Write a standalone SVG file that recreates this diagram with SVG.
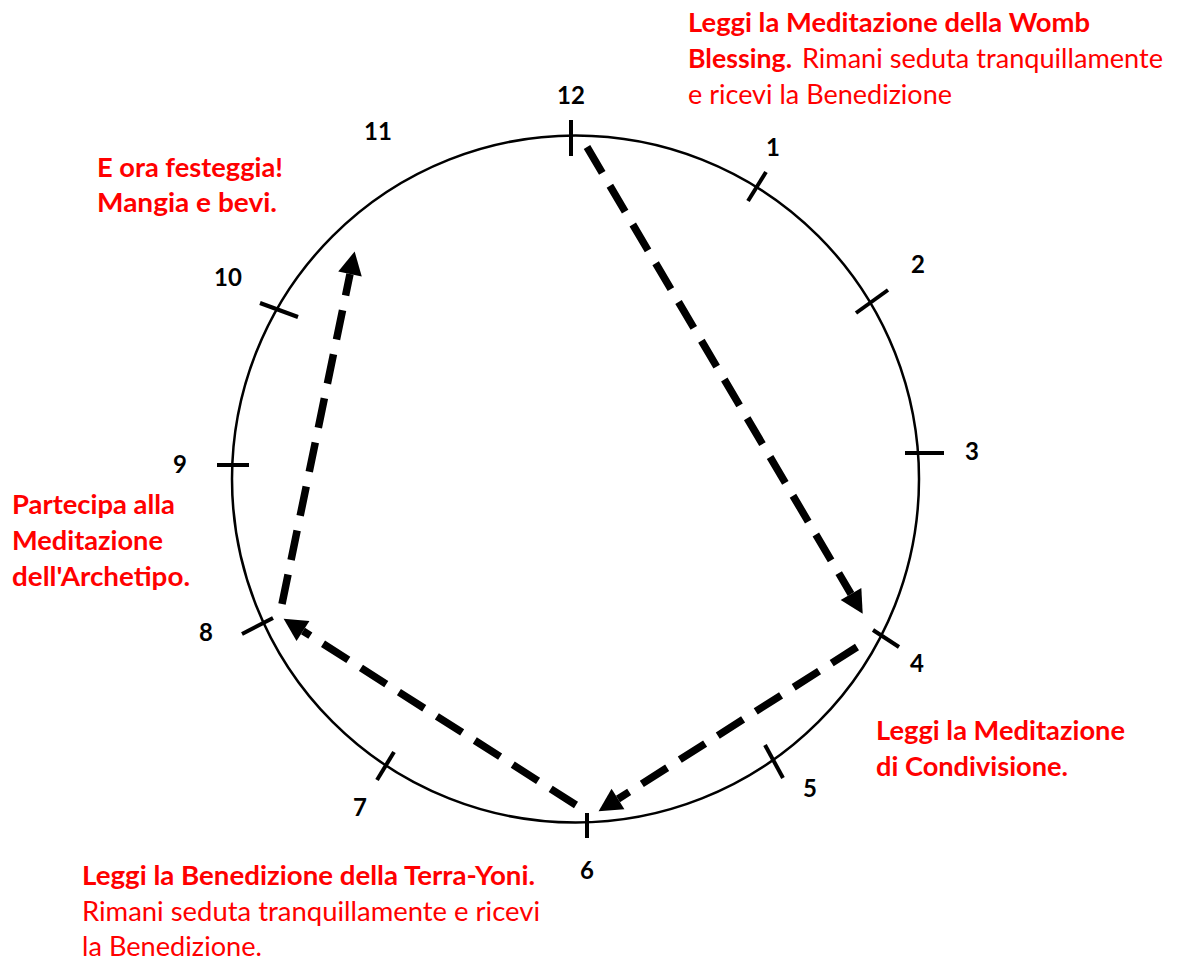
<svg xmlns="http://www.w3.org/2000/svg" width="1180" height="962" viewBox="0 0 1180 962">
<style>
.num{font-family:Lato,"Liberation Sans",sans-serif;font-weight:bold;font-size:24px;fill:#000;text-anchor:middle}
.t{font-family:Lato,"Liberation Sans",sans-serif;font-size:26px;fill:#ff0000}
.b{font-weight:bold}
.tick{stroke:#000;stroke-width:4;fill:none}
.dash{stroke:#000;stroke-width:7.5;fill:none;stroke-dasharray:30 15;marker-end:url(#ah)}
</style>
<defs>
<marker id="ah" markerUnits="userSpaceOnUse" markerWidth="26" markerHeight="26" refX="0" refY="13" orient="auto" viewBox="0 0 26 26" overflow="visible">
<path d="M0,1 L23,13 L0,25 z" fill="#000"/>
</marker>
</defs>
<rect width="1180" height="962" fill="#fff"/>
<g id="clock">
<circle cx="575.5" cy="479" r="343.5" fill="none" stroke="#000" stroke-width="2.5"/>
<line class="tick" x1="571" y1="120" x2="571" y2="156"/>
<line class="tick" x1="766" y1="172" x2="748" y2="201"/>
<line class="tick" x1="888" y1="290" x2="856" y2="313"/>
<line class="tick" x1="905" y1="453" x2="944" y2="453"/>
<line class="tick" x1="873" y1="630" x2="899" y2="647"/>
<line class="tick" x1="765" y1="745" x2="783" y2="778"/>
<line class="tick" x1="587" y1="813" x2="587" y2="838"/>
<line class="tick" x1="377" y1="780" x2="394" y2="752"/>
<line class="tick" x1="242" y1="634" x2="273" y2="618"/>
<line class="tick" x1="217" y1="465" x2="249" y2="465"/>
<line class="tick" x1="260" y1="303" x2="298" y2="317"/>
</g>
<g id="numbers">
<text class="num" x="571" y="104">12</text>
<text class="num" x="773" y="156">1</text>
<text class="num" x="918" y="273">2</text>
<text class="num" x="972" y="460">3</text>
<text class="num" x="917" y="672">4</text>
<text class="num" x="810" y="797">5</text>
<text class="num" x="587" y="879">6</text>
<text class="num" x="360" y="816">7</text>
<text class="num" x="206" y="641">8</text>
<text class="num" x="180" y="473">9</text>
<text class="num" x="228" y="286">10</text>
<text class="num" x="378" y="140">11</text>
</g>
<g id="connectors">
<path class="dash" d="M587,147 L851,594"/>
<path class="dash" d="M857,647 L618,799"/>
<path class="dash" d="M576,805 L303,631"/>
<path class="dash" d="M282,604 L350,274"/>
</g>
<g id="note-12">
<text class="t b" x="688" y="32" textLength="402" lengthAdjust="spacingAndGlyphs">Leggi la Meditazione della Womb</text>
<text class="t" y="68"><tspan class="b" x="688" textLength="104" lengthAdjust="spacingAndGlyphs">Blessing.</tspan><tspan x="802" textLength="361" lengthAdjust="spacingAndGlyphs">Rimani seduta tranquillamente</tspan></text>
<text class="t" x="688" y="104" textLength="264" lengthAdjust="spacingAndGlyphs">e ricevi la Benedizione</text>
</g>
<g id="note-11">
<text class="t b" x="97" y="177" textLength="186" lengthAdjust="spacingAndGlyphs">E ora festeggia!</text>
<text class="t b" x="97" y="212" textLength="180" lengthAdjust="spacingAndGlyphs">Mangia e bevi.</text>
</g>
<g id="note-8">
<text class="t b" x="12" y="514" textLength="163" lengthAdjust="spacingAndGlyphs">Partecipa alla</text>
<text class="t b" x="12" y="550" textLength="151" lengthAdjust="spacingAndGlyphs">Meditazione</text>
<text class="t b" x="12" y="586" textLength="178" lengthAdjust="spacingAndGlyphs">dell'Archetipo.</text>
</g>
<g id="note-4">
<text class="t b" x="876" y="740" textLength="249" lengthAdjust="spacingAndGlyphs">Leggi la Meditazione</text>
<text class="t b" x="876" y="776" textLength="192" lengthAdjust="spacingAndGlyphs">di Condivisione.</text>
</g>
<g id="note-6">
<text class="t b" x="82" y="885" textLength="453" lengthAdjust="spacingAndGlyphs">Leggi la Benedizione della Terra-Yoni.</text>
<text class="t" x="82" y="921" textLength="458" lengthAdjust="spacingAndGlyphs">Rimani seduta tranquillamente e ricevi</text>
<text class="t" x="82" y="956" textLength="180" lengthAdjust="spacingAndGlyphs">la Benedizione.</text>
</g>
</svg>
